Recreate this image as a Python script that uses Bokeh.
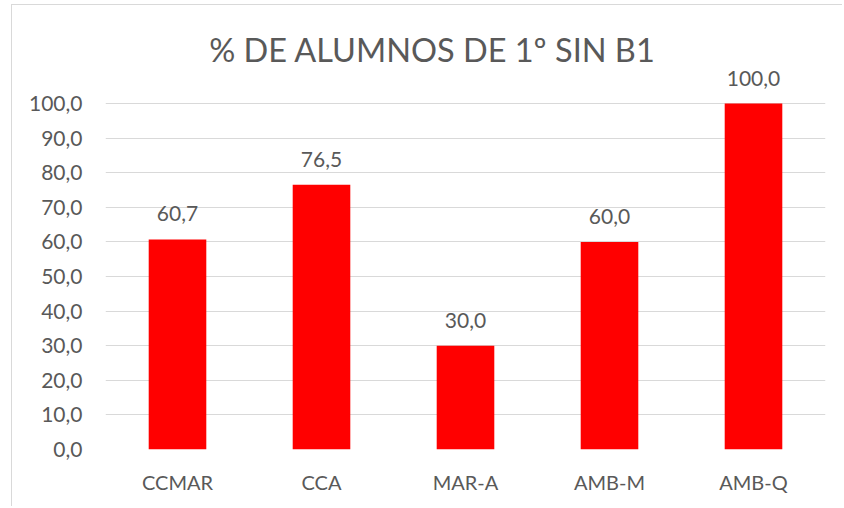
from bokeh.plotting import figure
from bokeh.models import ColumnDataSource, Range1d, FactorRange, FixedTicker, LabelSet, Label
from bokeh.core.properties import value
from bokeh.embed import file_html
from bokeh.resources import INLINE

categories = ["CCMAR", "CCA", "MAR-A", "AMB-M", "AMB-Q"]
values = [60.7, 76.5, 30.0, 60.0, 100.0]
y_ticks = [0, 10, 20, 30, 40, 50, 60, 70, 80, 90, 100]
y_tick_labels = ["0,0", "10,0", "20,0", "30,0", "40,0", "50,0", "60,0", "70,0", "80,0", "90,0", "100,0"]
title_text = "% DE ALUMNOS DE 1º SIN B1"

labels = [f"{v:.1f}".replace(".", ",") for v in values]
src = ColumnDataSource(dict(cat=categories, val=values, lab=labels))

FONT = "Lato"
TXT = "#595959"

# layout (pixels within the figure)
W, H = 831, 502
LEFT, RIGHT = 93, 18
BOTTOM = 58
Y100_PX = 98                      # pixel row of value 100
frame_h = H - BOTTOM
px_per_unit = (frame_h - Y100_PX) / 100.0
y_end = frame_h / px_per_unit     # frame spans whole height so labels are not clipped
frame_w = W - LEFT - RIGHT
px_per_cat = frame_w / len(categories)

p = figure(x_range=FactorRange(*categories, range_padding=0), y_range=Range1d(0, y_end),
           width=W, height=H, output_backend="svg", toolbar_location=None,
           min_border_left=LEFT, min_border_right=RIGHT, min_border_top=0, min_border_bottom=BOTTOM)
p.styles = {"margin-left": "11px", "margin-top": "4px",
            "border-left": "1px solid #D9D9D9", "border-top": "1px solid #D9D9D9"}

p.vbar(x="cat", top="val", width=0.4, source=src, fill_color="#FF0000", line_color=None)

p.add_layout(LabelSet(x="cat", y="val", text="lab", source=src, text_align="center",
                      text_baseline="alphabetic", y_offset=18, text_font=value(FONT),
                      text_font_size="21px", text_color=TXT))

title_x = (420 - LEFT) / px_per_cat
title_y = (frame_h - 44) / px_per_unit
p.add_layout(Label(x=title_x, y=title_y, text=title_text, text_align="center",
                   text_baseline="alphabetic", text_font=FONT, text_font_size="32.5px",
                   text_color=TXT))

p.outline_line_color = None
p.xgrid.grid_line_color = None
p.ygrid.grid_line_color = "#D9D9D9"
p.ygrid.grid_line_width = 1

p.yaxis.ticker = FixedTicker(ticks=y_ticks)
p.yaxis.major_label_overrides = {t: l for t, l in zip(y_ticks, y_tick_labels)}
for ax in (p.xaxis[0], p.yaxis[0]):
    ax.axis_line_color = None
    ax.major_tick_line_color = None
    ax.minor_tick_line_color = None
    ax.major_tick_out = 0
    ax.major_tick_in = 0
    ax.major_label_text_font = FONT
    ax.major_label_text_color = TXT
p.yaxis.major_label_text_font_size = "21px"
p.xaxis.major_label_text_font_size = "20px"
p.yaxis.major_label_standoff = 23
p.xaxis.major_label_standoff = 20

p.background_fill_color = "white"
p.border_fill_color = "white"

open("out.html", "w").write(file_html(p, INLINE))
